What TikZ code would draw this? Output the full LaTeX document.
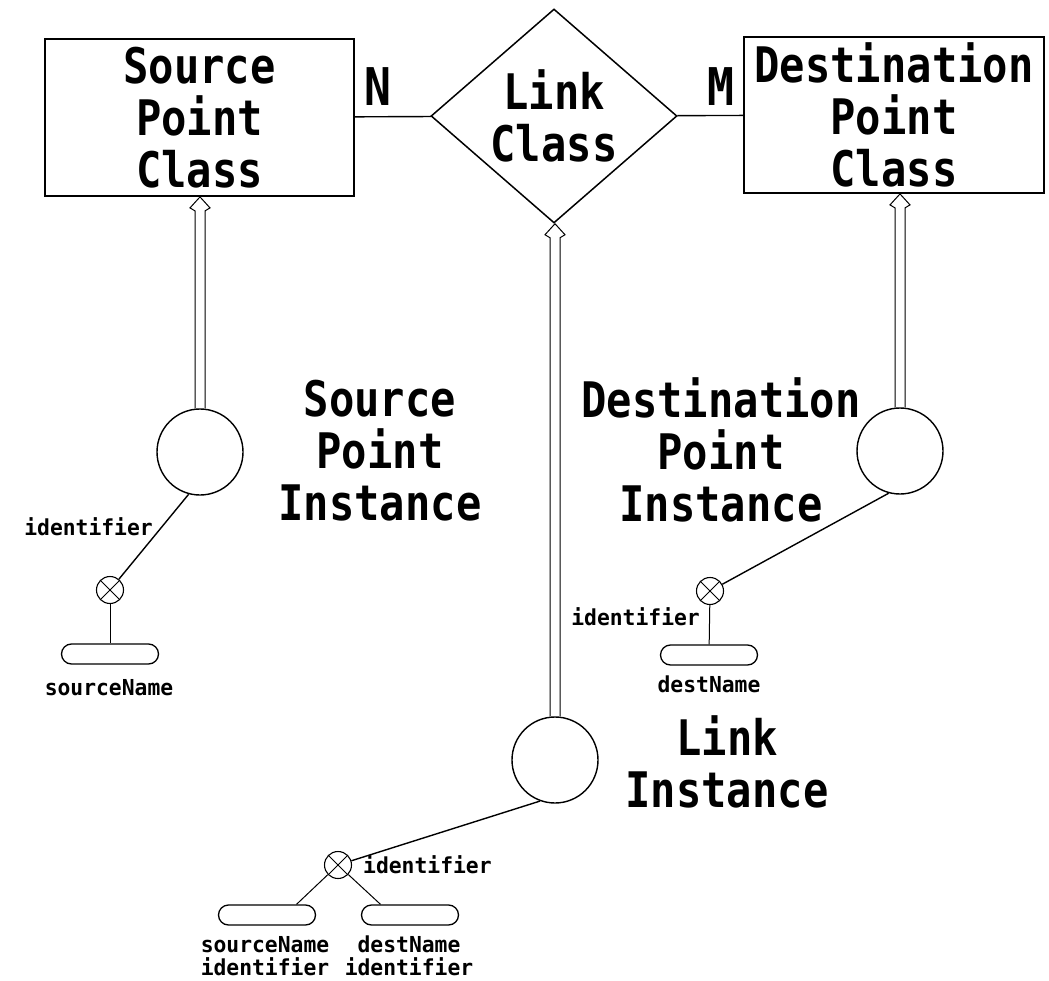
\documentclass[tikz,border=0pt]{standalone}
\usepackage{fontspec}
\usetikzlibrary{shapes.geometric,shapes.misc,calc}
\newfontfamily\bigfont[FakeStretch=0.86]{DejaVu Sans Mono}
\newfontfamily\smallfont[FakeStretch=0.97]{DejaVu Sans Mono}
\newcommand\bigtext{\bigfont\fontsize{49}{52}\selectfont\bfseries}
\newcommand\smalltext{\smallfont\fontsize{22}{23}\selectfont\bfseries}

% hollow "is-a" arrow: double shaft from an instance circle up to its class
\newcommand\isaarrow[2]{%
  \coordinate (isatip) at (#1.north |- #2.south);
  \draw[isaline] ($(#1.north)+(-5,0)$) -- ($(isatip)+(-5,14)$) -- ($(isatip)+(-10,11)$)
    -- (isatip) -- ($(isatip)+(10,11)$) -- ($(isatip)+(5,14)$) -- ($(#1.north)+(5,0)$);
}

\tikzset{
  classbox/.style={draw, rectangle, line width=1.8pt, inner sep=0pt, align=center, font=\bigtext},
  relbox/.style={draw, diamond, line width=1.5pt, inner sep=0pt, aspect=1.15, align=center, font=\bigtext},
  card/.style={inner sep=0pt, font=\bigfont\fontsize{52}{52}\selectfont\bfseries},
  inst/.style={draw, circle, line width=1.4pt, minimum size=86, inner sep=0pt},
  instlabel/.style={inner sep=0pt, align=center, font=\bigtext},
  keyx/.style={draw, circle, line width=1.1pt, minimum size=27, inner sep=0pt},
  attr/.style={draw, rounded rectangle, line width=1.3pt, minimum width=97, minimum height=20, inner sep=0pt},
  small/.style={inner sep=0pt, align=center, font=\smalltext},
  isaline/.style={line width=1pt, line join=miter},
  link/.style={line width=1.4pt},
}

\begin{document}
\begin{tikzpicture}[x=1pt, y=-1pt]
\useasboundingbox (0,0) rectangle (1049,981);

% classes and the relationship between them
\node[classbox, minimum width=309, minimum height=157] (spc) at (199.5,117.5) {Source\\Point\\Class};
\node[classbox, minimum width=300, minimum height=156] (dpc) at (894,115) {Destination\\Point\\Class};
\node[relbox, minimum width=246, minimum height=214] (lc) at (554,116) {Link\\Class};
\node[card] (cardN) at (378,87) {N};
\node[card] (cardM) at (721,87) {M};
\draw[link] (spc) -- (lc);
\draw[link] (lc) -- (dpc);

% instances
\node[inst] (si) at (200,452) {};
\node[inst] (di) at (900,451) {};
\node[inst] (li) at (555,760) {};
\isaarrow{si}{spc}
\isaarrow{di}{dpc}
\isaarrow{li}{lc}

\node[instlabel] (sil) at (380,451) {Source\\Point\\Instance};
\node[instlabel] (dil) at (721,450) {Destination\\Point\\Instance};
\node[instlabel] (lil) at (727,762) {Link\\Instance};

% identifiers and attributes: source point
\node[keyx] (sx) at (110,590) {};
\draw[line width=0.8pt] (sx.north west) -- (sx.south east) (sx.north east) -- (sx.south west);
\node[attr] (sa) at (110,654) {};
\draw[link] (si.255) -- (sx);
\draw[line width=1pt] (sx) -- (sa);
\node[small, anchor=east] (sid) at (153,527) {identifier};
\node[small] (san) at (109,688) {sourceName};

% identifiers and attributes: destination point
\node[keyx] (dx) at (710,591) {};
\draw[line width=0.8pt] (dx.north west) -- (dx.south east) (dx.north east) -- (dx.south west);
\node[attr] (da) at (709,655) {};
\draw[link] (di.255) -- (dx);
\draw[line width=1pt] (dx) -- (da);
\node[small, anchor=east] (did) at (700,617) {identifier};
\node[small] (dan) at (709,684) {destName};

% identifiers and attributes: link
\node[keyx] (lx) at (338,865) {};
\draw[line width=0.8pt] (lx.north west) -- (lx.south east) (lx.north east) -- (lx.south west);
\node[attr] (lsa) at (267,915) {};
\node[attr] (lda) at (410,915) {};
\draw[link] (li.250) -- (lx);
\draw[line width=1pt] (lx) -- ($(lsa.north east)+(-9,0)$);
\draw[line width=1pt] (lx) -- ($(lda.north west)+(9,0)$);
\node[small, anchor=west] (lid) at (363,865) {identifier};
\node[small] (lsn) at (265,956) {sourceName\\identifier};
\node[small] (ldn) at (409,956) {destName\\identifier};
\end{tikzpicture}
\end{document}
